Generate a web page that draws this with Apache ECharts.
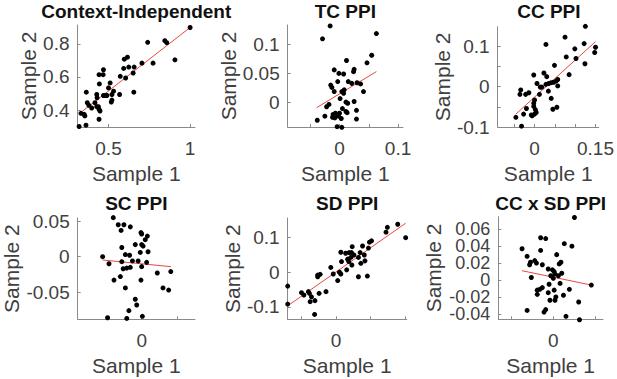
<!DOCTYPE html>
<html>
<head>
<meta charset="utf-8">
<script src="https://cdn.jsdelivr.net/npm/echarts@6/dist/echarts.min.js"></script>
<style>
html,body{margin:0;padding:0;background:#fff;}
#chart{width:617px;height:379px;}
</style>
</head>
<body>
<div id="chart"></div>
<script>
// Context-Independent
var ciX = [1.0, 0.74, 0.845, 0.857, 0.907, 0.773, 0.705, 0.597, 0.616, 0.593, 0.624, 0.657, 0.651, 0.605, 0.572, 0.655, 0.469, 0.442, 0.467, 0.444, 0.510, 0.5, 0.531, 0.521, 0.490, 0.469, 0.428, 0.430, 0.364, 0.521, 0.517, 0.568, 0.370, 0.380, 0.417, 0.397, 0.428, 0.442, 0.438, 0.448, 0.331, 0.355, 0.442, 0.320, 0.362, 0.351, 0.48];
var ciY = [0.9, 0.81, 0.82, 0.808, 0.704, 0.684, 0.684, 0.708, 0.72, 0.652, 0.66, 0.66, 0.624, 0.594, 0.604, 0.508, 0.644, 0.614, 0.614, 0.558, 0.564, 0.534, 0.514, 0.494, 0.488, 0.488, 0.494, 0.474, 0.508, 0.46, 0.448, 0.494, 0.444, 0.428, 0.444, 0.412, 0.42, 0.404, 0.42, 0.394, 0.38, 0.364, 0.344, 0.30, 0.308, 0.374, 0.488];
var ciFitX = [0.32, 1.0];
var ciFitY = [0.377, 0.9];
// TC PPI
var tcX = [-0.016, -0.029, 0.063, 0.055, 0.047, 0.012, 0.025, 0.024, -0.009, -0.001, 0.007, -0.003, -0.015, -0.013, -0.009, 0.015, 0.021, 0.030, 0.036, 0.041, 0.004, 0.008, 0.007, 0.011, 0.014, 0.001, -0.018, -0.022, 0.025, 0.005, 0.029, 0.011, 0.000, -0.007, -0.011, -0.012, -0.008, -0.002, 0.003, 0.013, 0.029, -0.025, -0.038, -0.004, 0.004];
var tcY = [0.131, 0.109, 0.118, 0.081, 0.068, 0.072, 0.057, 0.053, 0.056, 0.05, 0.049, 0.036, 0.030, 0.026, 0.019, 0.036, 0.033, 0.034, 0.032, 0.019, 0.019, 0.022, 0.016, 0.001, -0.001, 0.007, -0.003, -0.007, 0.002, -0.010, -0.013, -0.015, -0.018, -0.018, -0.020, -0.025, -0.026, -0.023, -0.027, -0.017, -0.028, -0.023, -0.030, -0.041, -0.042];
var tcFitX = [-0.039, 0.063];
var tcFitY = [-0.0085, 0.053];
// CC PPI
var ccX = [0.125, 0.075, 0.028, 0.122, 0.099, 0.150, 0.148, 0.078, 0.102, 0.124, 0.049, 0.085, -0.002, 0.023, 0.030, 0.057, 0.053, 0.047, 0.041, 0.035, 0.028, 0.006, 0.014, 0.018, 0.057, 0.034, 0.012, 0.041, -0.034, -0.036, -0.022, -0.014, 0, -0.002, -0.002, -0.020, 0.002, 0.045, 0.055, -0.027, -0.006, 0, -0.008, -0.046, -0.032, 0.004];
var ccY = [0.15, 0.123, 0.105, 0.107, 0.094, 0.098, 0.085, 0.074, 0.070, 0.057, 0.053, 0.030, 0.029, 0.034, 0.025, 0.018, 0.014, 0.011, 0.010, 0.008, 0.006, 0.008, -0.001, -0.001, 0.002, -0.011, -0.019, -0.029, -0.008, -0.019, -0.019, -0.015, -0.033, -0.041, -0.049, -0.054, -0.057, -0.056, -0.051, -0.068, -0.072, -0.068, -0.070, -0.076, -0.098, -0.064];
var ccFitX = [-0.046, 0.150];
var ccFitY = [-0.068, 0.112];
// SC PPI
var scX = [-0.040, -0.033, -0.025, -0.029, -0.016, -0.001, 0, 0.008, 0.005, -0.009, -0.028, 0, 0.002, 0.009, -0.002, -0.023, -0.017, -0.055, -0.013, -0.028, -0.046, 0.007, -0.005, -0.026, -0.021, -0.016, 0, 0.022, 0.041, -0.030, -0.039, -0.001, 0.030, 0.038, -0.023, -0.009, -0.007, -0.018, -0.048, -0.021, 0.001];
var scY = [0.055, 0.045, 0.045, 0.037, 0.042, 0.034, 0.032, 0.029, 0.024, 0.017, 0.013, 0.017, 0.015, 0.007, 0.006, 0.003, 0.002, 0.0, -0.006, -0.007, -0.01, -0.008, -0.006, -0.017, -0.016, -0.015, -0.014, -0.023, -0.021, -0.028, -0.033, -0.033, -0.044, -0.047, -0.044, -0.060, -0.068, -0.076, -0.086, -0.087, -0.084];
var scFitX = [-0.055, 0.041];
var scFitY = [-0.0047, -0.014];
// SD PPI
var sdX = [0.179, 0.149, 0.145, 0.202, 0.103, 0.097, 0.077, 0.094, 0.047, 0.014, 0.028, 0.038, 0.045, 0.052, 0.070, 0.016, 0.034, 0.043, 0.037, 0.046, 0.065, 0.082, 0.084, 0.072, 0.031, 0.065, 0.091, -0.015, 0.010, -0.008, 0.014, 0.005, -0.053, -0.046, -0.053, -0.029, -0.049, -0.080, -0.100, -0.093, -0.077, -0.071, -0.061, -0.075, -0.062, -0.140, -0.140];
var sdY = [0.139, 0.130, 0.116, 0.100, 0.091, 0.087, 0.076, 0.070, 0.074, 0.058, 0.055, 0.057, 0.057, 0.050, 0.057, 0.031, 0.038, 0.043, 0.031, 0.021, 0.043, 0.050, 0.033, 0.026, 0.007, -0.013, -0.011, 0.014, 0, -0.005, -0.005, -0.024, -0.008, -0.006, -0.013, -0.056, -0.061, -0.056, -0.059, -0.066, -0.061, -0.071, -0.082, -0.085, -0.122, -0.040, -0.092];
var sdFitX = [-0.140, 0.202];
var sdFitY = [-0.097, 0.142];
// CC x SD PPI
var cxsX = [0.025, -0.015, -0.009, 0.013, 0.022, -0.037, -0.015, 0.004, -0.031, -0.022, -0.027, -0.020, -0.028, -0.013, 0.009, 0.007, 0.010, -0.006, -0.001, 0.001, 0.002, -0.003, 0.006, 0, -0.026, -0.005, 0.008, 0.001, 0.019, -0.013, -0.016, -0.019, -0.019, 0.012, 0.003, -0.004, 0.002, 0.030, 0.045, -0.031, -0.009, -0.011, 0.015, 0.031, -0.006];
var cxsY = [0.074, 0.050, 0.049, 0.043, 0.040, 0.037, 0.035, 0.030, 0.028, 0.023, 0.021, 0.020, 0.018, 0.018, 0.021, 0.019, 0.008, 0.013, 0.012, 0.010, 0.007, 0.005, 0.005, 0.002, 0.003, -0.005, -0.004, -0.012, -0.011, -0.009, -0.011, -0.012, -0.017, -0.018, -0.020, -0.024, -0.024, -0.026, -0.006, -0.036, -0.035, -0.038, -0.043, -0.047, -0.015];
var cxsFitX = [-0.037, 0.045];
var cxsFitY = [0.011, -0.006];

// ticks / tick labels
var ciXTicks = [0.5, 1], ciXLabels = [0.5, 1];
var ciYTicks = [0.4, 0.6, 0.8], ciYLabels = [0.4, 0.6, 0.8];
var tcXTicks = [-0.05, 0, 0.05, 0.1], tcXLabels = [0, 0.1];
var tcYTicks = [0, 0.05, 0.1], tcYLabels = [0, 0.05, 0.1];
var ccXTicks = [-0.05, 0, 0.05, 0.1, 0.15], ccXLabels = [0, 0.15];
var ccYTicks = [-0.1, -0.05, 0, 0.05, 0.1], ccYLabels = [-0.1, 0, 0.1];
var scXTicks = [-0.05, 0, 0.05], scXLabels = [0];
var scYTicks = [-0.05, 0, 0.05], scYLabels = [-0.05, 0, 0.05];
var sdXTicks = [-0.1, 0, 0.1, 0.2], sdXLabels = [0];
var sdYTicks = [-0.1, 0, 0.1], sdYLabels = [-0.1, 0, 0.1];
var cxsXTicks = [-0.05, 0, 0.05], cxsXLabels = [0];
var cxsYTicks = [-0.04, -0.02, 0, 0.02, 0.04, 0.06], cxsYLabels = [-0.04, -0.02, 0, 0.02, 0.04, 0.06];

var panels = [
	{title:'Context-Independent', x:ciX, y:ciY, fx:ciFitX, fy:ciFitY, xt:ciXTicks, xl:ciXLabels, yt:ciYTicks, yl:ciYLabels,
	 xr:[0.31, 1.03], yr:[0.297, 0.915], box:[77.5, 25, 117.5, 102], gap:38, ty:11, yfs:19},
	{title:'TC PPI', x:tcX, y:tcY, fx:tcFitX, fy:tcFitY, xt:tcXTicks, xl:tcXLabels, yt:tcYTicks, yl:tcYLabels,
	 xr:[-0.0885, 0.1085], yr:[-0.0415, 0.1326], box:[287.7, 25, 115.3, 102], gap:48, ty:11, yfs:19},
	{title:'CC PPI', x:ccX, y:ccY, fx:ccFitX, fy:ccFitY, xt:ccXTicks, xl:ccXLabels, yt:ccYTicks, yl:ccYLabels,
	 xr:[-0.0907, 0.158], yr:[-0.1, 0.149], box:[497.7, 26.7, 102.3, 100.3], gap:43, ty:11, yfs:19},
	{title:'SC PPI', x:scX, y:scY, fx:scFitX, fy:scFitY, xt:scXTicks, xl:scXLabels, yt:scYTicks, yl:scYLabels,
	 xr:[-0.0901, 0.0751], yr:[-0.0882, 0.0545], box:[77.7, 218, 117.3, 101.3], gap:55, ty:203, yfs:19},
	{title:'SD PPI', x:sdX, y:sdY, fx:sdFitX, fy:sdFitY, xt:sdXTicks, xl:sdXLabels, yt:sdYTicks, yl:sdYLabels,
	 xr:[-0.140, 0.205], yr:[-0.136, 0.157], box:[287.7, 218, 119, 101.3], gap:44, ty:203, yfs:19},
	{title:'CC x SD PPI', x:cxsX, y:cxsY, fx:cxsFitX, fy:cxsFitY, xt:cxsXTicks, xl:cxsXLabels, yt:cxsYTicks, yl:cxsYLabels,
	 xr:[-0.0651, 0.0588], yr:[-0.0465, 0.0749], box:[498.3, 216.7, 104.7, 102.6], gap:54, ty:203, yfs:18, dense:true}
];

var FONT = '"Liberation Sans", Arial, sans-serif';
var axisColor = '#8a8a8a';
var textColor = '#404040';

function zip(a, b){
	return a.map(function(v, i){ return [v, b[i]]; });
}

function axis(range, ticks, labels, name, gap, isX, fs){
	return {
		type:'value',
		min:range[0],
		max:range[1],
		name:name,
		nameLocation:'middle',
		nameGap:gap,
		nameRotate:isX ? 0 : 90,
		nameTextStyle:{fontFamily:FONT, fontSize:21, color:textColor},
		axisLine:{show:true, onZero:false, lineStyle:{color:axisColor, width:1}},
		axisTick:{show:true, inside:true, length:3, customValues:ticks, lineStyle:{color:axisColor}},
		axisLabel:{show:true, customValues:labels, margin:isX ? 12 : 8, fontFamily:FONT, fontSize:fs, color:textColor,
			showMinLabel:true, showMaxLabel:true, hideOverlap:false},
		splitLine:{show:false}
	};
}

var grids = [], xAxes = [], yAxes = [], extraY = [], series = [], texts = [];
panels.forEach(function(p, i){
	grids.push({left:p.box[0], top:p.box[1], width:p.box[2], height:p.box[3]});
	xAxes.push(Object.assign(axis(p.xr, p.xt, p.xl, 'Sample 1', 36, true, 19), {gridIndex:i}));
	var yl = p.yl;
	if(p.dense){
		// tightly packed labels: split over two left axes so none gets dropped
		yl = p.yl.filter(function(v, k){ return k % 2 === 0; });
		var other = axis(p.yr, [], p.yl.filter(function(v, k){ return k % 2 === 1; }), '', 0, false, p.yfs);
		other.axisLine.show = false;
		other.axisTick.show = false;
		extraY.push(Object.assign(other, {gridIndex:i, position:'left', offset:0}));
	}
	yAxes.push(Object.assign(axis(p.yr, p.yt, yl, 'Sample 2', p.gap, false, p.yfs), {gridIndex:i, position:'left'}));
	series.push({
		type:'line', xAxisIndex:i, yAxisIndex:i, data:zip(p.fx, p.fy),
		showSymbol:false, silent:true, z:1,
		lineStyle:{color:'#e8473f', width:1}
	});
	series.push({
		type:'scatter', xAxisIndex:i, yAxisIndex:i, data:zip(p.x, p.y),
		symbolSize:5, clip:false, silent:true, z:2,
		itemStyle:{color:'#000', opacity:1}
	});
	texts.push({
		type:'text', x:p.box[0] + p.box[2] / 2, y:p.ty,
		style:{text:p.title, fill:'#111', font:'bold 19px ' + FONT, textAlign:'center', textVerticalAlign:'middle'}
	});
});

var myChart = echarts.init(document.getElementById('chart'), null, {renderer:'svg'});
myChart.setOption({
	animation:false,
	backgroundColor:'#fff',
	grid:grids,
	xAxis:xAxes,
	yAxis:yAxes.concat(extraY),
	series:series,
	graphic:texts
});
</script>
</body>
</html>
